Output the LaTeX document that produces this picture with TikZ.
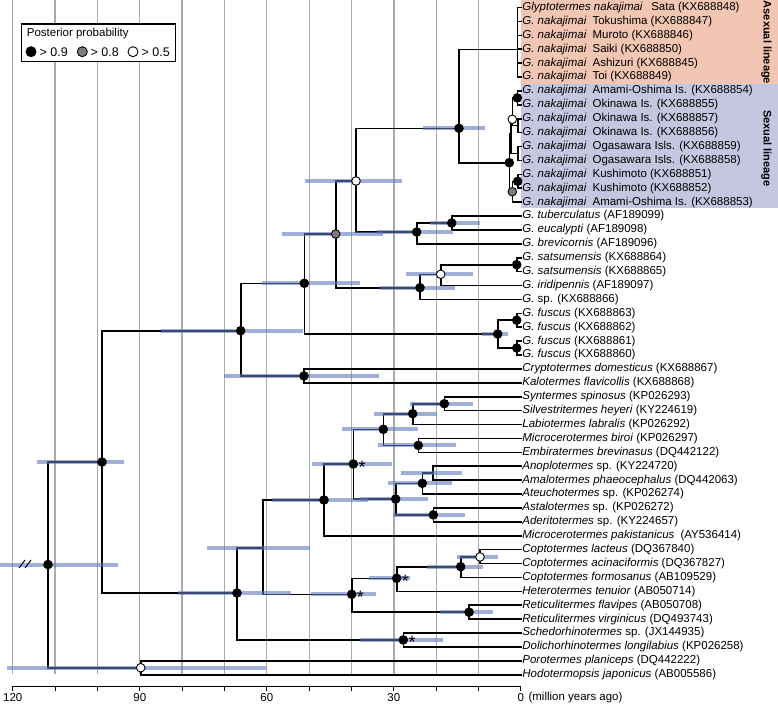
\documentclass[tikz,border=0pt]{standalone}
\usepackage{fontspec}
\setmainfont{Liberation Sans}
\usetikzlibrary{positioning}
\definecolor{hpdblue}{RGB}{97,122,188}
\definecolor{asexfill}{RGB}{242,198,178}
\definecolor{sexfill}{RGB}{198,198,224}
\definecolor{gridgray}{RGB}{170,170,170}
\definecolor{ppgray}{RGB}{125,125,125}
\newcommand{\gap}{\hspace{6pt}}
\newcommand{\Gn}{\textit{G. nakajimai}\gap}
\tikzset{
  branch/.style={line width=1.6pt, line cap=rect},
  hpdbar/.style={line width=4pt, draw=hpdblue, opacity=0.6},
  gridline/.style={line width=1.3pt, draw=gridgray},
  pp/.style={circle, draw=black, line width=0.9pt, inner sep=0pt, minimum size=8.6pt},
  ppnine/.style={pp, fill=black},
  ppeight/.style={pp, fill=ppgray},
  ppfive/.style={pp, fill=white},
  tip/.style={anchor=west, inner xsep=1.2pt, inner ysep=0pt, font=\fontsize{11.5}{13}\selectfont},
  axislabel/.style={font=\fontsize{11.5}{13}\selectfont},
  legendlabel/.style={anchor=west, inner sep=0pt, font=\fontsize{12.5}{14}\selectfont},
  lineage/.style={rotate=-90, font=\fontsize{11}{13}\selectfont\bfseries},
  starmark/.style={anchor=base west, inner sep=0pt, font=\fontsize{18}{18}\selectfont},
}
\begin{document}
\begin{tikzpicture}[x=1pt, y=-1pt]
  \useasboundingbox (0,0) rectangle (778,704);
  % time grid
  \foreach \k in {0,...,11}
    \draw[gridline] ({12.7+42.35*\k},0) -- ({12.7+42.35*\k},674);
  % lineage boxes
  \fill[asexfill] (521,0) rectangle (778,84);
  \fill[sexfill] (521,84) rectangle (778,208.3);
  \node[lineage] (asex) at (766.5,42.5) {Asexual lineage};
  \node[lineage] (sex) at (766.5,148.5) {Sexual lineage};

  % tips
  \foreach \lab [count=\i] in {
    {\textit{Glyptotermes nakajimai}\hspace{8.5pt}Sata (KX688848)},
    {\Gn Tokushima (KX688847)},
    {\Gn Muroto (KX688846)},
    {\Gn Saiki (KX688850)},
    {\Gn Ashizuri (KX688845)},
    {\Gn Toi (KX688849)},
    {\Gn Amami-Oshima Is. (KX688854)},
    {\Gn Okinawa Is. (KX688855)},
    {\Gn Okinawa Is. (KX688857)},
    {\Gn Okinawa Is. (KX688856)},
    {\Gn Ogasawara Isls. (KX688859)},
    {\Gn Ogasawara Isls. (KX688858)},
    {\Gn Kushimoto (KX688851)},
    {\Gn Kushimoto (KX688852)},
    {\Gn Amami-Oshima Is. (KX688853)},
    {\textit{G. tuberculatus} (AF189099)},
    {\textit{G. eucalypti} (AF189098)},
    {\textit{G. brevicornis} (AF189096)},
    {\textit{G. satsumensis} (KX688864)},
    {\textit{G. satsumensis} (KX688865)},
    {\textit{G. iridipennis} (AF189097)},
    {\textit{G.} sp. (KX688866)},
    {\textit{G. fuscus} (KX688863)},
    {\textit{G. fuscus} (KX688862)},
    {\textit{G. fuscus} (KX688861)},
    {\textit{G. fuscus} (KX688860)},
    {\textit{Cryptotermes domesticus} (KX688867)},
    {\textit{Kalotermes flavicollis} (KX688868)},
    {\textit{Syntermes spinosus} (KP026293)},
    {\textit{Silvestritermes heyeri} (KY224619)},
    {\textit{Labiotermes labralis} (KP026292)},
    {\textit{Microcerotermes biroi} (KP026297)},
    {\textit{Embiratermes brevinasus} (DQ442122)},
    {\textit{Anoplotermes} sp. (KY224720)},
    {\textit{Amalotermes phaeocephalus} (DQ442063)},
    {\textit{Ateuchotermes} sp. (KP026274)},
    {\textit{Astalotermes} sp. (KP026272)},
    {\textit{Aderitotermes} sp. (KY224657)},
    {\textit{Microcerotermes pakistanicus}\gap (AY536414)},
    {\textit{Coptotermes lacteus} (DQ367840)},
    {\textit{Coptotermes acinaciformis} (DQ367827)},
    {\textit{Coptotermes formosanus} (AB109529)},
    {\textit{Heterotermes tenuior} (AB050714)},
    {\textit{Reticulitermes flavipes} (AB050708)},
    {\textit{Reticulitermes virginicus} (DQ493743)},
    {\textit{Schedorhinotermes} sp. (JX144935)},
    {\textit{Dolichorhinotermes longilabius} (KP026258)},
    {\textit{Porotermes planiceps} (DQ442222)},
    {\textit{Hodotermopsis japonicus} (AB005586)}}
  {
    \coordinate (t\i) at (521,{7.5+13.9*(\i-1)});
    \node[tip] (l\i) at (t\i) {\lab};
  }

  % internal nodes
  \coordinate (R) at (48,564.5);
  \coordinate (P) at (140.7,667.7);
  \coordinate (A) at (102,462);
  \coordinate (K) at (240.7,330.7);
  \coordinate (CK) at (304,375.9);
  \coordinate (G) at (304.3,283.3);
  \coordinate (Gr) at (335.7,234);
  \coordinate (W1) at (356,181);
  \coordinate (N) at (459,128.3);
  \coordinate (As) at (517.3,49.3);
  \coordinate (S) at (509.3,162.7);
  \coordinate (U) at (511,133.7);
  \coordinate (W2) at (512.3,119.3);
  \coordinate (B78) at (517.3,97.9);
  \coordinate (W9) at (518,125.6);
  \coordinate (O) at (518,153.5);
  \coordinate (L) at (512.3,191.7);
  \coordinate (K13) at (517.7,181.3);
  \coordinate (Tu) at (416.7,232);
  \coordinate (TE) at (451.7,223);
  \coordinate (Sa) at (420,287.7);
  \coordinate (SW) at (440.7,274.3);
  \coordinate (SS) at (516.7,264.7);
  \coordinate (F) at (497.7,334);
  \coordinate (F1) at (516.7,320.2);
  \coordinate (F2) at (516.7,348);
  \coordinate (T0) at (237,593);
  \coordinate (T1) at (262.7,547.7);
  \coordinate (TM) at (324,500);
  \coordinate (AS) at (353.3,464);
  \coordinate (B1) at (383.3,429.3);
  \coordinate (B3) at (412.7,413.7);
  \coordinate (B5) at (444.3,403.7);
  \coordinate (B4) at (418.3,445.4);
  \coordinate (B2) at (395.7,499);
  \coordinate (B6) at (422.3,483.3);
  \coordinate (B8) at (432.7,473.2);
  \coordinate (B7) at (433.3,514.9);
  \coordinate (RH) at (351.7,594.3);
  \coordinate (CH) at (396.7,578.3);
  \coordinate (CO) at (460.7,566.7);
  \coordinate (CW) at (480,556.9);
  \coordinate (RE) at (469,612.2);
  \coordinate (SD) at (403.3,639.9);

  % branches
  \foreach \p/\c in {R/A, R/P, P/t48, P/t49, A/K, A/T0, K/G, K/CK, CK/t27, CK/t28,
      G/Gr, G/F, Gr/W1, Gr/Sa, W1/N, W1/Tu, N/As, N/S,
      As/t1, As/t2, As/t3, As/t4, As/t5, As/t6,
      S/U, S/L, U/W2, U/O, W2/B78, W2/W9, B78/t7, B78/t8, W9/t9, W9/t10, O/t11, O/t12,
      L/K13, L/t15, K13/t13, K13/t14,
      Tu/TE, Tu/t18, TE/t16, TE/t17, Sa/SW, Sa/t22, SW/SS, SW/t21, SS/t19, SS/t20,
      F/F1, F/F2, F1/t23, F1/t24, F2/t25, F2/t26,
      T0/T1, T0/SD, SD/t46, SD/t47, T1/TM, T1/RH, TM/AS, TM/t39, AS/B1, AS/B2,
      B1/B3, B1/B4, B3/B5, B3/t31, B5/t29, B5/t30, B4/t32, B4/t33,
      B2/B6, B2/B7, B6/B8, B6/t36, B8/t34, B8/t35, B7/t37, B7/t38,
      RH/CH, RH/RE, CH/CO, CH/t43, CO/CW, CO/t42, CW/t40, CW/t41, RE/t44, RE/t45}
    \draw[branch] (\p) |- (\c);

  % 95% HPD intervals
  \foreach \n/\l/\r in {R/0/118.3, P/6.7/266, A/37.3/124.3, K/161/303, CK/224.3/379.3,
      G/262/360, Gr/282.3/383.3, W1/305/401.7, N/423.3/485, Tu/376.7/453.3,
      TE/430/480, Sa/380/455, SW/405.7/473.3, F/481.7/508.3,
      T0/177.7/291, T1/206.7/310, TM/272/368, AS/311.7/391.7, B1/341.7/417.7,
      B3/374.3/436.7, B5/410/472.7, B4/377.7/455.7, B2/360/428, B6/388.3/451.7,
      B8/400.7/462.3, B7/393.3/465, RH/311/376, CH/369/410, CO/426.7/483.3,
      CW/457.3/498.3, RE/440/492.7, SD/360/442.7}
    \draw[hpdbar] (\l,0 |- \n) -- (\r,0 |- \n);
  % break on the root stem
  \draw[line width=1pt] (19,568) -- (25,560) (25,568) -- (31,560);

  % posterior probabilities
  \foreach \n in {R, A, K, CK, G, N, S, Tu, TE, Sa, SS, F, F1, F2, T0, TM, AS,
      B1, B3, B5, B4, B2, B6, B7, RH, CH, CO, RE, SD, B78, K13}
    \node[ppnine] at (\n) {};
  \foreach \n in {Gr, L}
    \node[ppeight] at (\n) {};
  \foreach \n in {P, W1, SW, CW, W2}
    \node[ppfive] at (\n) {};
  \foreach \n in {AS, RH, CH, SD}
    \node[starmark] at ([xshift=5pt,yshift=-9pt]\n) {*};

  % time axis
  \draw[line width=1pt] (12.7,686) -- (521,686);
  \foreach \k in {0,...,12}
    \draw[line width=1pt] ({12.7+42.35*\k},686) -- ({12.7+42.35*\k},690.5);
  \foreach \k/\a in {0/120, 3/90, 6/60, 9/30, 12/0}
    \node[axislabel] (ax\a) at ({12.7+42.35*\k},697.5) {\a};
  \node[axislabel, anchor=west] (unit) at (525,697.5) {(million years ago)};

  % legend
  \draw[line width=1.2pt, fill=white] (21.7,24) rectangle (175.7,61.7);
  \node[anchor=west, inner sep=0pt, font=\fontsize{11.5}{13}\selectfont] (legtitle) at (26.7,34) {Posterior probability};
  \node[ppnine, minimum size=10pt] (lk9) at (31,51.7) {};
  \node[legendlabel] at (39.5,51.7) {> 0.9};
  \node[ppeight, minimum size=10pt] (lk8) at (82.3,51.7) {};
  \node[legendlabel] at (90.5,51.7) {> 0.8};
  \node[ppfive, minimum size=10pt] (lk5) at (133,51.7) {};
  \node[legendlabel] at (141.5,51.7) {> 0.5};
\end{tikzpicture}
\end{document}
